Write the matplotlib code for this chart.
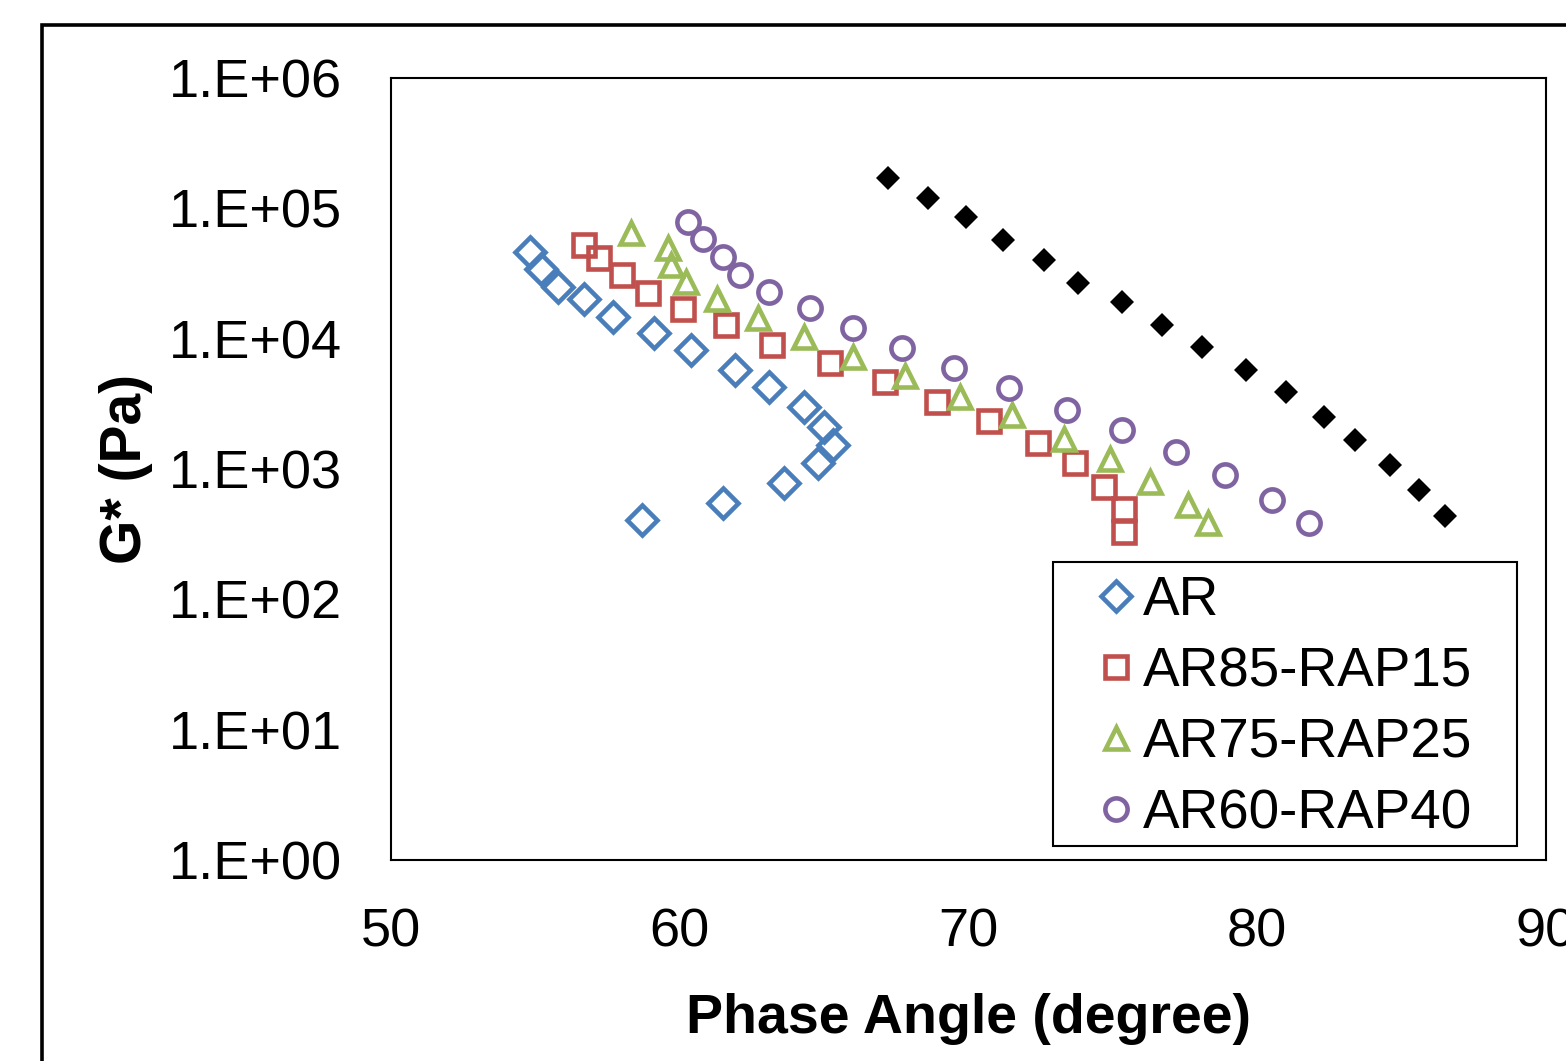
import math
import matplotlib
matplotlib.use("Agg")
import matplotlib.pyplot as plt
from matplotlib.patches import Rectangle
from matplotlib.ticker import FixedLocator, FuncFormatter

plt.rcParams['font.family'] = ['Liberation Sans', 'DejaVu Sans']

# phase angle (degree) and G* (Pa)
ar_x = [54.8, 55.2, 55.8, 56.7, 57.7, 59.1, 60.4, 61.9, 63.1, 64.3, 65.0, 65.3, 64.8, 63.6, 61.5, 58.7]
ar_y = [4.6e4, 3.4e4, 2.5e4, 2.0e4, 1.47e4, 1.1e4, 8.2e3, 5.75e3, 4.25e3, 3.0e3, 2.1e3, 1.53e3, 1.11e3, 780, 550, 405]

r15_x = [56.7, 57.2, 58.0, 58.9, 60.1, 61.6, 63.2, 65.2, 67.1, 68.9, 70.7, 72.4, 73.7, 74.7, 75.4, 75.4]
r15_y = [5.2e4, 4.15e4, 3.1e4, 2.25e4, 1.7e4, 1.27e4, 8.9e3, 6.5e3, 4.65e3, 3.25e3, 2.35e3, 1.58e3, 1.11e3, 730, 490, 330]

r25_x = [58.3, 59.6, 59.7, 60.2, 61.3, 62.7, 64.3, 66.0, 67.8, 69.7, 71.5, 73.3, 74.9, 76.3, 77.6, 78.3]
r25_y = [6.5e4, 5.0e4, 3.7e4, 2.7e4, 2.0e4, 1.45e4, 1.03e4, 7.2e3, 5.2e3, 3.6e3, 2.6e3, 1.7e3, 1.19e3, 800, 530, 385]

r40_x = [60.3, 60.8, 61.5, 62.1, 63.1, 64.5, 66.0, 67.7, 69.5, 71.4, 73.4, 75.3, 77.2, 78.9, 80.5, 81.8]
r40_y = [7.85e4, 5.8e4, 4.25e4, 3.1e4, 2.3e4, 1.72e4, 1.21e4, 8.5e3, 6.0e3, 4.2e3, 2.85e3, 2.0e3, 1.35e3, 900, 580, 385]

ref_x = [67.2, 68.6, 69.9, 71.2, 72.6, 73.8, 75.3, 76.7, 78.1, 79.6, 81.0, 82.3, 83.4, 84.6, 85.6, 86.5]
ref_y = [1.71e5, 1.2e5, 8.6e4, 5.7e4, 4.0e4, 2.67e4, 1.91e4, 1.27e4, 8.6e3, 5.75e3, 3.9e3, 2.5e3, 1.67e3, 1.07e3, 690, 436]

labels = ["AR", "AR85-RAP15", "AR75-RAP25", "AR60-RAP40"]
x_ticks = [50, 60, 70, 80, 90]
y_ticks = [1e0, 1e1, 1e2, 1e3, 1e4, 1e5, 1e6]

fig = plt.figure(figsize=(15.66, 10.61), dpi=100)
ax = fig.add_axes([0.2497, 0.1894, 0.7375, 0.7371])

# outer chart border (runs off the right and bottom of the image)
top = 1 - 25/1061
fig.patches.append(Rectangle((42/1566, -0.2), 1.2, top + 0.2, transform=fig.transFigure,
                             fill=False, edgecolor='black', linewidth=2.6))

ax.plot(ar_x, ar_y, 'D', ms=15, mfc='none', mec='#4A7EBB', mew=3.3, label=labels[0])
ax.plot(r15_x, r15_y, 's', ms=16, mfc='none', mec='#C0504D', mew=3.3, label=labels[1])
ax.plot(r25_x, r25_y, '^', ms=16, mfc='none', mec='#9BBB59', mew=3.3, label=labels[2])
ax.plot(r40_x, r40_y, 'o', ms=16, mfc='none', mec='#8064A2', mew=3.3, label=labels[3])
ax.plot(ref_x, ref_y, 'D', ms=12, mfc='black', mec='black', mew=0)

ax.set_yscale('log')
ax.set_xlim(50, 90)
ax.set_ylim(1, 1e6)
ax.xaxis.set_major_locator(FixedLocator(x_ticks))
ax.yaxis.set_major_locator(FixedLocator(y_ticks))
ax.yaxis.set_minor_locator(FixedLocator([]))
ax.yaxis.set_major_formatter(FuncFormatter(lambda v, p: "1.E+%02d" % round(math.log10(v))))
ax.tick_params(axis='both', length=0, labelsize=39)
ax.tick_params(axis='y', pad=35)
ax.tick_params(axis='x', pad=34)
for s in ax.spines.values():
    s.set_linewidth(1.5)

ax.set_xlabel("Phase Angle (degree)", fontsize=40, fontweight='bold', labelpad=26)
ax.set_ylabel("G* (Pa)", fontsize=41, fontweight='bold', labelpad=12)

# legend box drawn separately so its padding follows the original
aw, ah = 1155, 782
ax.add_patch(Rectangle(((1053 - 391)/aw, (860 - 846)/ah), (1517 - 1053)/aw, (846 - 562)/ah,
                       transform=ax.transAxes, fill=False, edgecolor='black', linewidth=1.5, zorder=5))
leg = ax.legend(loc='upper left', bbox_to_anchor=((1072 - 391)/aw, (860 - 575)/ah), borderaxespad=0,
                frameon=False, fontsize=39.5, handlelength=1.6, handletextpad=-0.3,
                borderpad=0, labelspacing=0.35, numpoints=1)

fig.savefig("out.png", dpi=100)
